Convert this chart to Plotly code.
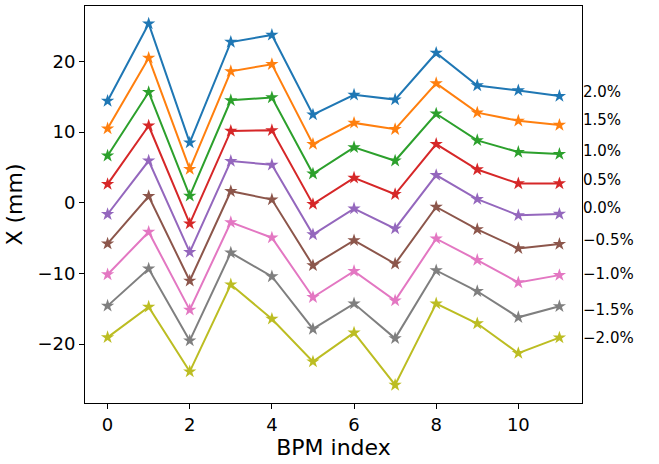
import plotly.graph_objects as go

bpm_index = list(range(12))

s_p20 = [14.4, 25.35, 8.5, 22.75, 23.75, 12.47, 15.27, 14.6, 21.2, 16.6, 15.9, 15.1]
s_p15 = [10.5, 20.5, 4.76, 18.6, 19.6, 8.3, 11.3, 10.4, 16.9, 12.75, 11.6, 11.0]
s_p10 = [6.65, 15.65, 0.97, 14.5, 14.9, 4.1, 7.84, 5.94, 12.6, 8.83, 7.17, 6.89]
s_p05 = [2.63, 10.9, -2.96, 10.16, 10.25, -0.2, 3.52, 1.2, 8.3, 4.7, 2.72, 2.72]
s_p00 = [-1.63, 5.94, -7.0, 5.9, 5.37, -4.5, -0.83, -3.67, 3.9, 0.5, -1.78, -1.59]
s_m05 = [-5.8, 0.92, -11.05, 1.63, 0.45, -8.88, -5.33, -8.64, -0.6, -3.76, -6.46, -5.85]
s_m10 = [-10.16, -4.14, -15.17, -2.77, -4.95, -13.38, -9.68, -13.85, -5.09, -8.12, -11.29, -10.25]
s_m15 = [-14.6, -9.35, -19.53, -7.08, -10.44, -17.87, -14.28, -19.2, -9.59, -12.53, -16.22, -14.66]
s_m20 = [-19.06, -14.74, -23.9, -11.58, -16.45, -22.5, -18.4, -25.8, -14.28, -17.1, -21.3, -19.1]

series = [s_p20, s_p15, s_p10, s_p05, s_p00, s_m05, s_m10, s_m15, s_m20]
labels = ["2.0%", "1.5%", "1.0%", "0.5%", "0.0%", "\u22120.5%", "\u22121.0%", "\u22121.5%", "\u22122.0%"]
label_pos = [15.7, 11.8, 7.3, 3.3, -0.7, -5.2, -10.1, -15.2, -19.1]

colors = ["#1f77b4", "#ff7f0e", "#2ca02c", "#d62728", "#9467bd",
          "#8c564b", "#e377c2", "#7f7f7f", "#bcbd22"]

yrange = [-28.35, 27.85]
xrange = [-0.55, 11.55]

fig = go.Figure()
for s, c, lab in zip(series, colors, labels):
    fig.add_trace(go.Scatter(
        x=bpm_index, y=s, mode="lines+markers", name=lab,
        line=dict(color=c, width=2),
        marker=dict(symbol="star", size=10, color=c, line=dict(width=0)),
        yaxis="y", showlegend=False))

fig.add_trace(go.Scatter(
    x=[bpm_index[-1]] * len(label_pos), y=label_pos, mode="markers",
    marker=dict(opacity=0), yaxis="y2", showlegend=False, hoverinfo="skip"))

fig.update_layout(
    width=659, height=464,
    margin=dict(l=85, r=77, t=6, b=61),
    paper_bgcolor="white", plot_bgcolor="white",
    font=dict(family="DejaVu Sans", color="black"),
    xaxis=dict(
        range=xrange, tickvals=[0, 2, 4, 6, 8, 10],
        ticks="outside", ticklen=5, tickwidth=1, tickcolor="black",
        showline=True, linecolor="black", linewidth=1, mirror=True,
        showgrid=False, zeroline=False, automargin=False,
        tickfont=dict(size=18),
        title=dict(text="BPM index", font=dict(size=22), standoff=4),
    ),
    yaxis=dict(
        range=yrange, tickvals=[-20, -10, 0, 10, 20],
        ticks="outside", ticklen=5, tickwidth=1, tickcolor="black",
        showline=True, linecolor="black", linewidth=1, mirror=True,
        showgrid=False, zeroline=False, automargin=False,
        tickfont=dict(size=18),
        title=dict(text="X (mm)", font=dict(size=22), standoff=8),
    ),
    yaxis2=dict(
        range=yrange, overlaying="y", side="right", anchor="x",
        tickvals=label_pos, ticktext=labels, ticks="", ticklen=0,
        showline=False, showgrid=False, zeroline=False, automargin=False,
        tickfont=dict(size=15),
    ),
)

fig.write_html("out.html", config={"displayModeBar": False},
               post_script="document.body.style.margin='0';document.body.style.overflow='hidden';")
